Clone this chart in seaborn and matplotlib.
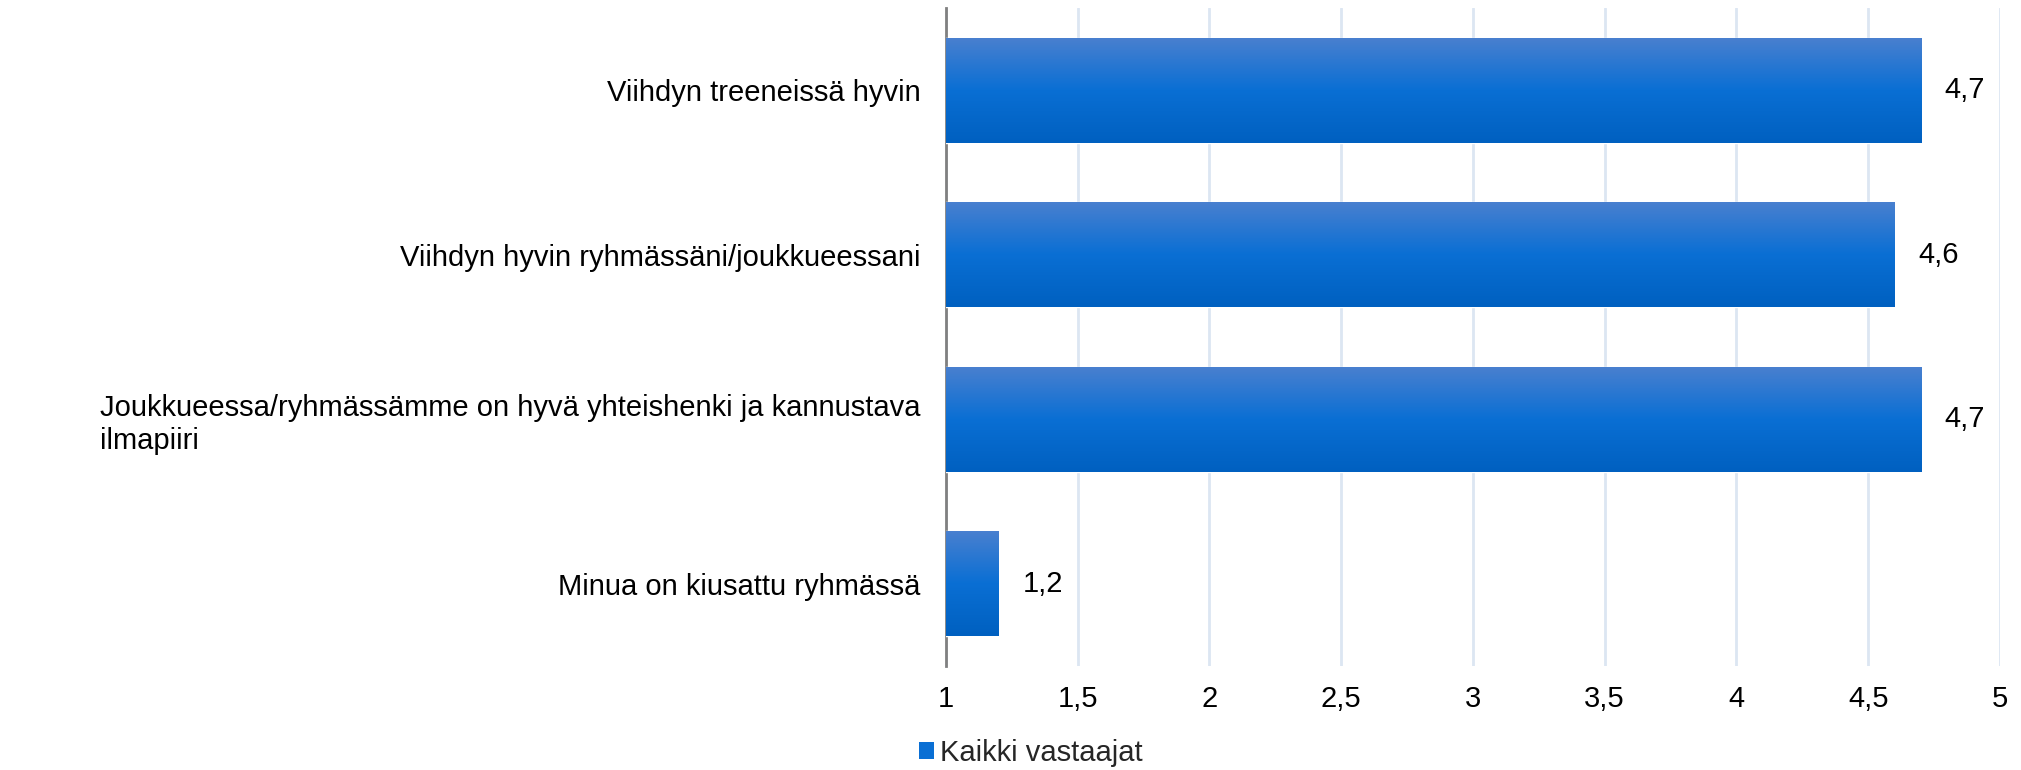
import matplotlib
matplotlib.use("Agg")
import matplotlib.pyplot as plt
import numpy as np
import pandas as pd
import seaborn as sns
from matplotlib.colors import LinearSegmentedColormap
from matplotlib.patches import Patch
from matplotlib.ticker import FuncFormatter, MultipleLocator

categories = [
    "Viihdyn treeneissä hyvin",
    "Viihdyn hyvin ryhmässäni/joukkueessani",
    "Joukkueessa/ryhmässämme on hyvä yhteishenki ja kannustava\nilmapiiri",
    "Minua on kiusattu ryhmässä",
]
values = [4.7, 4.6, 4.7, 1.2]
series_name = "Kaikki vastaajat"

BAR_TOP = "#4a80cf"
BAR_MID = "#0a6fd4"
BAR_BOTTOM = "#0060c0"
GRID = "#dce6f2"


def comma(value, _pos=None):
    text = f"{value:.1f}".replace(".", ",")
    return text[:-2] if text.endswith(",0") else text


sns.set_theme(style="white")
plt.rcParams["font.family"] = ["Liberation Sans", "DejaVu Sans"]

df = pd.DataFrame({"label": categories, "value": values})

fig = plt.figure(figsize=(20.21, 7.7), dpi=100)
ax = fig.add_axes([0.468, 0.135, 0.5216, 0.8545])

sns.barplot(data=df, x="value", y="label", color=BAR_MID, width=0.64, ax=ax, zorder=3)

ax.set_xlim(1, 5)
ax.xaxis.set_major_locator(MultipleLocator(0.5))
ax.xaxis.set_major_formatter(FuncFormatter(comma))
ax.grid(axis="x", color=GRID, linewidth=2, zorder=0)
ax.grid(axis="y", visible=False)
ax.set_axisbelow(True)
ax.set_xlabel("")
ax.set_ylabel("")
for side in ["top", "right", "bottom"]:
    ax.spines[side].set_visible(False)
ax.spines["left"].set_color("#808080")
ax.spines["left"].set_linewidth(2)
ax.tick_params(axis="both", length=0, labelsize=21, colors="black")
ax.tick_params(axis="x", pad=14)
ax.tick_params(axis="y", pad=18)
for label in ax.get_yticklabels():
    label.set_multialignment("left")

# vertical gradient fill for each bar
cmap = LinearSegmentedColormap.from_list("bar", [BAR_TOP, BAR_MID, BAR_BOTTOM])
grad = np.linspace(0, 1, 256).reshape(-1, 1)
for patch, value in zip(ax.patches, values):
    x0, y0 = patch.get_x(), patch.get_y()
    w, h = patch.get_width(), patch.get_height()
    patch.set_facecolor("none")
    im = ax.imshow(grad, cmap=cmap, aspect="auto", extent=(max(x0, 1), x0 + w, y0 + h, y0),
                   origin="upper", zorder=3)
    im.set_clip_path(patch)
    ax.text(x0 + w + 0.09, y0 + h / 2, comma(value), va="center", ha="left", fontsize=21,
            color="black", zorder=4)

ax.set_ylim(3.5, -0.5)

handle = Patch(facecolor=BAR_MID, edgecolor="none")
fig.legend([handle], [series_name], loc="center", bbox_to_anchor=(0.51, 0.022), frameon=False,
           fontsize=21, handlelength=0.5, handleheight=0.5, handletextpad=0.2)

fig.savefig("out.png", dpi=100)
